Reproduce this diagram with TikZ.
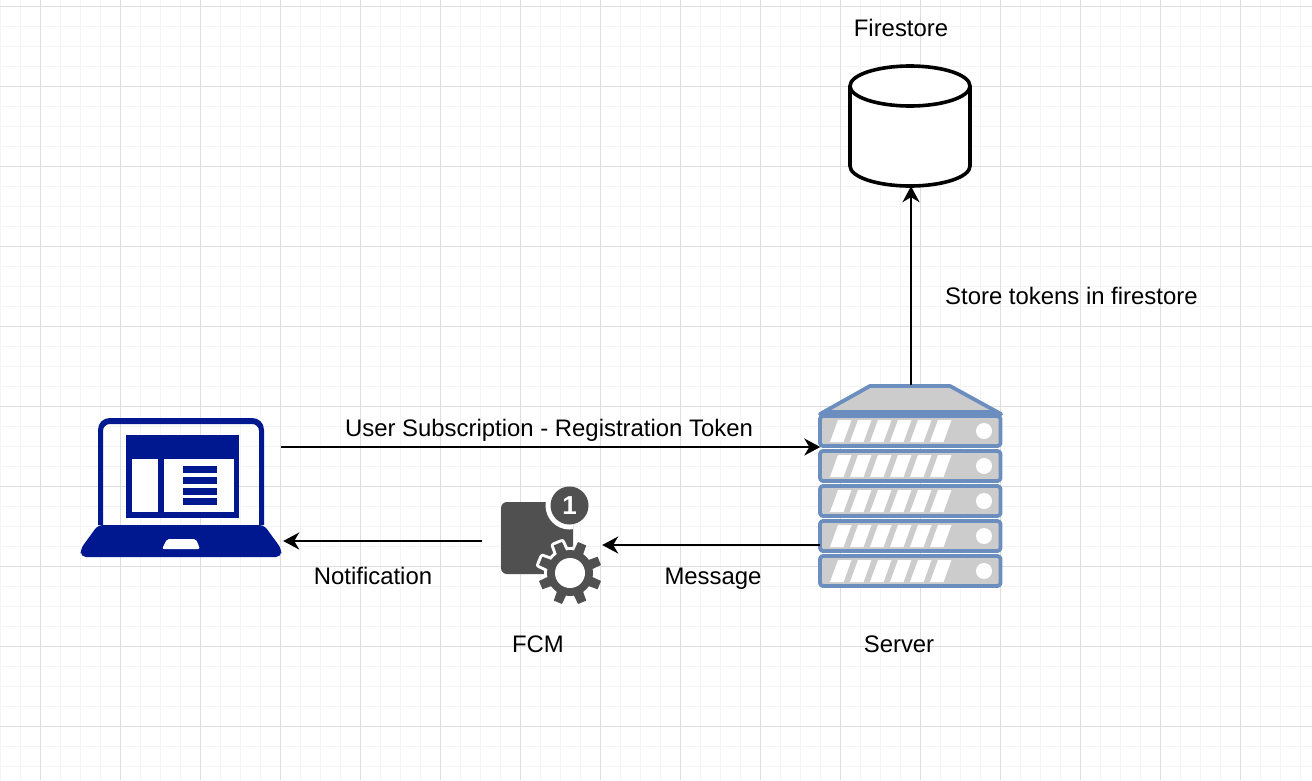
\documentclass[tikz,border=0pt]{standalone}
\usepackage{fontspec}
\setmainfont{Liberation Sans}
\usetikzlibrary{arrows.meta}
\definecolor{laptopblue}{HTML}{00188F}
\definecolor{srvstroke}{HTML}{6C8EBF}
\definecolor{srvfill}{HTML}{CCCCCC}
\definecolor{fcmgray}{HTML}{505050}
\definecolor{gridminor}{HTML}{F4F4F4}
\definecolor{gridmajor}{HTML}{DEDEDE}
\tikzset{
  flow/.style={draw=black,line width=2pt,-{Stealth[length=16pt,width=17pt,inset=5pt]}},
  lbl/.style={font=\fontsize{23.9}{26}\selectfont,text=black,inner sep=0pt,anchor=base},
  box/.style={inner sep=0pt,minimum width=#1},
  srvline/.style={draw=srvstroke,fill=srvfill,line width=3.8pt,line join=round},
}
\begin{document}
\begin{tikzpicture}[x=1pt,y=-1pt]
  \useasboundingbox (0,0) rectangle (1312,780);
  \fill[white] (0,0) rectangle (1312,780);
  \foreach \x in {0,20,...,1300} \draw[gridminor,line width=1pt] (\x,0) -- (\x,780);
  \foreach \y in {6,26,...,766} \draw[gridminor,line width=1pt] (0,\y) -- (1312,\y);
  \foreach \x in {40,120,...,1240} \draw[gridmajor,line width=1pt] (\x,0) -- (\x,780);
  \foreach \y in {6,86,...,726} \draw[gridmajor,line width=1pt] (0,\y) -- (1312,\y);

  \node[box=199pt,minimum height=139pt] (laptop) at (181.5,487.5) {};
  \node[box=120pt,minimum height=116pt] (fcm) at (542,545) {};
  \node[box=181pt,minimum height=203pt] (server) at (911,486.5) {};
  \node[box=120pt,minimum height=120pt] (firestore) at (910,126) {};

  % laptop
  \fill[laptopblue,even odd rule] (98,525) -- (98,430) .. controls (98,423) and (103,418) .. (110,418) -- (252,418)
    .. controls (259,418) and (264,423) .. (264,430) -- (264,525) -- cycle
    (103,525) -- (103,431) .. controls (103,427) and (106,424) .. (110,424) -- (252,424)
    .. controls (256,424) and (259,427) .. (259,431) -- (259,525) -- cycle;
  \fill[laptopblue,rounded corners=5pt] (98,525) -- (264,525) -- (281.5,549) -- (281,557) -- (81,557) -- (80.5,549) -- cycle;
  \fill[white,rounded corners=2pt] (167,539) -- (196,539) -- (200,549) -- (162,549) -- cycle;
  \fill[laptopblue] (126,435) rectangle (239,518);
  \fill[white] (132,459) rectangle (158,512);
  \fill[white] (164,459) rectangle (234,512);
  \foreach \y in {466,477,488,498} \fill[laptopblue] (183,\y) rectangle (217,\y+7);

  % fcm
  \fill[fcmgray,rounded corners=6pt] (501,502) rectangle (573,574);
  \begin{scope}
    \clip (501,502) rectangle (573,574);
    \fill[white] (569.5,505.5) circle (24);
    \foreach \a in {22.5,67.5,...,337.5}
      \draw[white,fill=white,line width=6pt,line join=round,shift={(570,573)}] (\a-13:22) -- (\a-8:32) -- (\a+8:32) -- (\a+13:22) -- cycle;
    \draw[white,fill=white,line width=6pt] (570,573) circle (23);
  \end{scope}
  \fill[fcmgray] (569.5,505.5) circle (19);
  \node[font=\fontsize{26}{28}\bfseries\selectfont,text=white,inner sep=0pt] (badge) at (569.5,505.5) {1};
  \foreach \a in {22.5,67.5,...,337.5}
    \fill[fcmgray,shift={(570,573)}] (\a-13:22) -- (\a-8:32) -- (\a+8:32) -- (\a+13:22) -- cycle;
  \fill[fcmgray] (570,573) circle (23);
  \fill[white] (570,573) circle (15);

  % server
  \draw[srvline] (820,414) -- (870,386) -- (950,386) -- (1001,414) -- cycle;
  \fill[srvstroke] (826,410) -- (995,410) -- (1002,416) -- (819,416) -- cycle;
  \foreach \y in {431,466,501,536,571} {
    \draw[srvline,rounded corners=3pt] (820,\y-15) rectangle (1000.5,\y+15);
    \foreach \x in {0,20,...,100}
      \fill[white] (830+\x,\y+11) -- (843.5+\x,\y+11) -- (851.5+\x,\y-11) -- (838+\x,\y-11) -- cycle;
    \fill[white] (984,\y) circle (8);
  }

  % firestore
  \draw[black,line width=3.6pt,fill=white] (850,86) .. controls (850,75) and (877,66) .. (910,66)
    .. controls (943,66) and (970,75) .. (970,86) -- (970,166)
    .. controls (970,177) and (943,186) .. (910,186)
    .. controls (877,186) and (850,177) .. (850,166) -- cycle;
  \draw[black,line width=3.6pt] (850,86) .. controls (850,97) and (877,106) .. (910,106)
    .. controls (943,106) and (970,97) .. (970,86);

  \coordinate (serverin) at ([yshift=39.5pt]server.west);
  \coordinate (fcmout) at ([yshift=4pt]fcm.west);
  \draw[flow] (laptop.east |- serverin) -- (serverin);
  \draw[flow] (server.west |- fcm.east) -- (fcm.east);
  \draw[flow,shorten >=2pt] (fcmout) -- (laptop.east |- fcmout);
  \draw[flow] (server.north) -- (server.north |- firestore.south);

  \node[lbl] (firestorelbl) at (901,36) {Firestore};
  \node[lbl,anchor=base west] (storelbl) at (945,304) {Store tokens in firestore};
  \node[lbl] (subscrlbl) at (549,436) {User Subscription - Registration Token};
  \node[lbl] (msglbl) at (713,584) {Message};
  \node[lbl] (notiflbl) at (373,584) {Notification};
  \node[lbl] (fcmlbl) at (538,652) {FCM};
  \node[lbl] (serverlbl) at (899,652) {Server};
\end{tikzpicture}
\end{document}
